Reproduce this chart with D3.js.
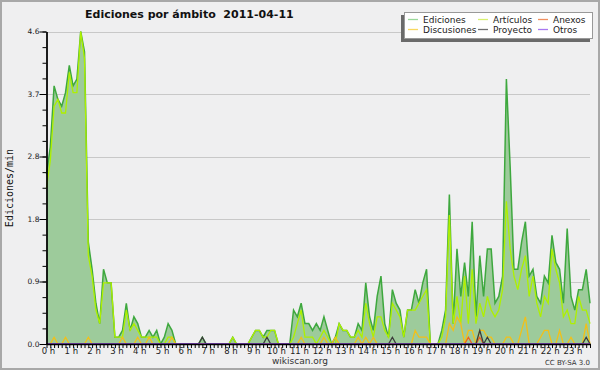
<!DOCTYPE html>
<html>
<head>
<meta charset="utf-8">
<script src="https://cdnjs.cloudflare.com/ajax/libs/d3/7.8.5/d3.min.js"></script>
<style>
  body { margin: 0; background: #efeff0; }
  text { font-family: "DejaVu Sans", sans-serif; }
</style>
</head>
<body>
<div id="chart"></div>
<script>
// 10 minute bins, edits per minute
var ediciones = [
  2.5, 2.9, 3.8, 3.6, 3.5, 3.7, 4.1, 3.8, 3.9, 4.6, 4.3, 1.5,
  1.1, 0.6, 0.3, 1.1, 0.9, 0.9, 0.1, 0.1, 0.2, 0.6, 0.2, 0.4,
  0.3, 0.1, 0.1, 0.2, 0.1, 0.2, 0, 0.1, 0.3, 0.2, 0, 0,
  0, 0, 0, 0, 0, 0.1, 0, 0, 0, 0, 0, 0,
  0, 0.1, 0, 0, 0, 0, 0.1, 0.2, 0.2, 0.1, 0.2, 0.2,
  0.2, 0, 0, 0, 0, 0.5, 0.4, 0.6, 0.3, 0.3, 0.2, 0.3,
  0.2, 0.4, 0.2, 0, 0.1, 0.3, 0.2, 0.2, 0.1, 0.1, 0.3, 0.2,
  0.9, 0.4, 0.2, 0.7, 1.0, 0.3, 0.1, 0.8, 0.6, 0.5, 0.1, 0.5,
  0.5, 0.8, 0.6, 0.9, 1.1, 0, 0, 0, 0.2, 0.5, 2.2, 0.3,
  1.4, 0.7, 1.2, 0.7, 1.8, 0.4, 1.3, 0.7, 1.4, 1.4, 0.6, 0.7,
  1.0, 3.9, 2.6, 1.1, 1.1, 1.5, 1.8, 1.0, 1.1, 0.7, 0.6, 1.0,
  0.9, 1.6, 1.2, 1.1, 0.6, 1.7, 0.7, 0.5, 0.8, 0.8, 1.1, 0.6
];
var articulos = [
  2.3, 2.7, 3.5, 3.6, 3.4, 3.4, 4.0, 3.7, 3.7, 4.6, 4.2, 1.3,
  1.0, 0.5, 0.3, 0.9, 0.9, 0.9, 0.1, 0.1, 0.1, 0.5, 0.2, 0.3,
  0.2, 0.1, 0.1, 0.1, 0.1, 0.1, 0, 0, 0.1, 0.1, 0, 0,
  0, 0, 0, 0, 0, 0, 0, 0, 0, 0, 0, 0,
  0, 0.1, 0, 0, 0, 0, 0.1, 0.2, 0.2, 0.1, 0.1, 0.2,
  0.2, 0, 0, 0, 0, 0.1, 0.3, 0.5, 0.1, 0.1, 0.1, 0,
  0.1, 0.2, 0.1, 0, 0, 0.3, 0.2, 0.2, 0.1, 0.1, 0.2, 0.1,
  0.6, 0.3, 0.1, 0.4, 0.4, 0.2, 0.1, 0.6, 0.5, 0.4, 0.1, 0.5,
  0.5, 0.5, 0.6, 0.7, 0.8, 0, 0, 0, 0.1, 0.4, 1.9, 0.3,
  0.7, 0.3, 1.0, 0.3, 1.1, 0.3, 0.6, 0.4, 0.7, 0.5, 0.4, 0.5,
  0.8, 2.1, 1.4, 1.0, 0.8, 1.1, 1.3, 0.7, 1.0, 0.6, 0.4, 0.7,
  0.6, 1.4, 1.1, 0.9, 0.4, 0.5, 0.3, 0.3, 0.7, 0.5, 0.5, 0.3
];
var discusiones = [
  0, 0, 0.1, 0, 0, 0.1, 0, 0, 0, 0, 0, 0.1,
  0, 0, 0, 0, 0, 0, 0, 0, 0.1, 0, 0, 0,
  0.1, 0, 0, 0.1, 0, 0, 0, 0, 0, 0.1, 0, 0,
  0, 0, 0, 0, 0, 0, 0, 0, 0, 0, 0, 0,
  0, 0, 0, 0, 0, 0, 0, 0, 0, 0, 0, 0,
  0, 0, 0, 0, 0, 0, 0, 0.1, 0, 0, 0, 0,
  0, 0.1, 0, 0, 0.1, 0, 0, 0, 0, 0, 0.1, 0,
  0.1, 0, 0.1, 0, 0, 0, 0, 0, 0, 0, 0, 0,
  0, 0.2, 0.1, 0.1, 0.1, 0, 0, 0, 0, 0, 0.3, 0.2,
  0.4, 0.3, 0, 0.2, 0.2, 0, 0.2, 0.2, 0.1, 0.1, 0, 0,
  0, 0.1, 0.1, 0, 0, 0.2, 0.4, 0, 0, 0, 0.1, 0.2,
  0.2, 0, 0, 0.2, 0, 0, 0.1, 0, 0, 0, 0.3, 0
];
var anexos = [
  0, 0, 0, 0, 0, 0, 0, 0, 0, 0, 0, 0,
  0, 0, 0, 0, 0, 0, 0, 0, 0, 0, 0, 0,
  0, 0, 0, 0, 0, 0, 0, 0, 0, 0, 0, 0,
  0, 0, 0, 0, 0, 0, 0, 0, 0, 0, 0, 0,
  0, 0, 0, 0, 0, 0, 0, 0, 0, 0, 0, 0,
  0, 0, 0, 0, 0, 0, 0, 0, 0, 0, 0, 0,
  0, 0, 0, 0, 0, 0, 0, 0, 0, 0, 0, 0,
  0, 0, 0, 0, 0, 0, 0, 0, 0, 0, 0, 0,
  0, 0, 0, 0, 0, 0, 0, 0, 0, 0, 0, 0,
  0, 0, 0, 0.1, 0, 0, 0.1, 0, 0, 0, 0, 0,
  0, 0, 0, 0, 0, 0, 0, 0, 0, 0, 0, 0,
  0, 0, 0, 0, 0, 0, 0, 0, 0, 0, 0, 0
];
var proyecto = [
  0, 0, 0, 0, 0, 0, 0, 0, 0, 0, 0, 0,
  0, 0, 0, 0, 0, 0, 0, 0, 0, 0, 0, 0,
  0, 0, 0, 0, 0, 0, 0, 0, 0, 0, 0, 0,
  0, 0, 0, 0, 0, 0.1, 0, 0, 0, 0, 0, 0,
  0, 0, 0, 0, 0, 0, 0, 0, 0, 0, 0.1, 0,
  0, 0, 0, 0, 0, 0, 0, 0, 0, 0, 0, 0,
  0, 0, 0, 0, 0, 0, 0, 0, 0, 0, 0, 0,
  0, 0, 0, 0, 0, 0, 0, 0.1, 0, 0, 0, 0,
  0, 0, 0, 0, 0, 0, 0, 0, 0, 0, 0, 0,
  0, 0, 0, 0, 0, 0, 0.2, 0, 0.1, 0, 0, 0,
  0, 0, 0, 0, 0, 0, 0, 0, 0, 0, 0, 0,
  0, 0, 0, 0, 0, 0, 0, 0, 0, 0, 0.1, 0
];
var otros = [
  0, 0, 0, 0, 0, 0, 0, 0, 0, 0, 0, 0,
  0, 0, 0, 0, 0, 0, 0, 0, 0, 0, 0, 0,
  0, 0, 0, 0, 0, 0, 0, 0, 0, 0, 0, 0,
  0, 0, 0, 0, 0, 0, 0, 0, 0, 0, 0, 0,
  0, 0, 0, 0, 0, 0, 0, 0, 0, 0, 0, 0,
  0, 0, 0, 0, 0, 0, 0, 0, 0, 0, 0, 0,
  0, 0, 0, 0, 0, 0, 0, 0, 0, 0, 0, 0,
  0, 0, 0, 0, 0, 0, 0, 0, 0, 0, 0, 0,
  0, 0, 0, 0, 0, 0, 0, 0, 0, 0, 0, 0,
  0, 0, 0, 0, 0, 0, 0, 0, 0, 0, 0, 0,
  0, 0, 0, 0, 0, 0, 0, 0, 0, 0, 0, 0,
  0, 0, 0, 0, 0, 0, 0, 0, 0, 0, 0, 0
];

var hourLabels = ["0 h", "1 h", "2 h", "3 h", "4 h", "5 h", "6 h", "7 h",
  "8 h", "9 h", "10 h", "11 h", "12 h", "13 h", "14 h", "15 h", "16 h",
  "17 h", "18 h", "19 h", "20 h", "21 h", "22 h", "23 h"];
var yTickValues = [0, 0.92, 1.84, 2.76, 3.68, 4.6];
var yTickLabels = ["0.0", "0.9", "1.8", "2.8", "3.7", "4.6"];
var legendNames = ["Ediciones", "Artículos", "Anexos", "Discusiones", "Proyecto", "Otros"];
var legendColors = ["#9ad89a", "#d8f070", "#f09060", "#f8d860", "#707070", "#a878f0"];

var w = 600;
var h = 370;
var maxY = 4.6;

var svg = d3
  .select("#chart")
  .append("svg")
  .attr("width", w)
  .attr("height", h);

// background + frame
svg.append("rect")
  .attr("x", 1).attr("y", 1)
  .attr("width", w - 2).attr("height", h - 2)
  .attr("fill", "#efeff0")
  .attr("stroke", "#a8a8a8")
  .attr("stroke-width", 2);

var xScale = d3.scaleLinear().domain([0, 143]).range([46.5, 590]);
var yScale = d3.scaleLinear().domain([0, maxY]).range([344, 31.5]);

// grid
svg.selectAll("line.grid")
  .data(yTickValues.slice(1))
  .enter()
  .append("line")
  .attr("class", "grid")
  .attr("x1", 46.5)
  .attr("x2", 590)
  .attr("y1", function (d) { return Math.round(yScale(d)) + 0.5; })
  .attr("y2", function (d) { return Math.round(yScale(d)) + 0.5; })
  .attr("stroke", "#c8c8c8");

// total edits as area
var area = d3.area()
  .x(function (d, i) { return xScale(i); })
  .y0(yScale(0))
  .y1(function (d) { return yScale(d); });

var line = d3.line()
  .x(function (d, i) { return xScale(i); })
  .y(function (d) { return yScale(d); });

svg.append("path")
  .datum(ediciones)
  .attr("d", area)
  .attr("fill", "#9dcb9b");

svg.append("path")
  .datum(ediciones)
  .attr("d", line)
  .attr("fill", "none")
  .attr("stroke", "#3ea83e")
  .attr("stroke-width", 1.5);

var series = [
  [articulos, "#aef000"],
  [discusiones, "#f2c018"],
  [anexos, "#f06020"],
  [proyecto, "#3c3c3c"],
  [otros, "#8040e0"]
];
series.forEach(function (s) {
  svg.append("path")
    .datum(s[0])
    .attr("d", line)
    .attr("fill", "none")
    .attr("stroke", s[1])
    .attr("stroke-width", 1.3);
});

// axes
var yAxis = d3.axisLeft(yScale)
  .tickValues(yTickValues)
  .tickFormat(function (d, i) { return yTickLabels[i]; })
  .tickSize(7)
  .tickSizeOuter(0);
var yMinor = d3.axisLeft(yScale)
  .tickValues(d3.range(0, 21).map(function (k) { return maxY * k / 20; }))
  .tickFormat("")
  .tickSize(4)
  .tickSizeOuter(0);

svg.append("g").attr("transform", "translate(46.5,0)").call(yMinor);
var gy = svg.append("g").attr("transform", "translate(46.5,0)").call(yAxis);
gy.selectAll("text")
  .attr("x", -7)
  .style("font-size", "7.5px")
  .style("font-family", "DejaVu Sans")
  .attr("fill", "#222");

var xAxis = d3.axisBottom(xScale)
  .tickValues(d3.range(0, 144))
  .tickFormat("")
  .tickSize(4)
  .tickSizeOuter(0);
svg.append("g").attr("transform", "translate(0,344)").call(xAxis);

svg.selectAll("path.domain").attr("stroke", "#000").attr("stroke-width", 1.3);

svg.selectAll("text.hour")
  .data(hourLabels)
  .enter()
  .append("text")
  .attr("class", "hour")
  .attr("x", function (d, i) { return xScale(i * 6) + 2; })
  .attr("y", 354)
  .attr("text-anchor", "middle")
  .style("font-size", "8.5px")
  .attr("fill", "#222")
  .text(function (d) { return d; });

// y label
svg.append("text")
  .attr("transform", "translate(13,188) rotate(-90)")
  .attr("text-anchor", "middle")
  .style("font-family", "DejaVu Sans Mono")
  .style("font-size", "10px")
  .attr("fill", "#111")
  .text("Ediciones/min");

// title
svg.append("text")
  .attr("x", 85)
  .attr("y", 18)
  .style("font-size", "11px")
  .style("font-weight", "bold")
  .style("white-space", "pre")
  .attr("fill", "#111")
  .text("Ediciones por ámbito  2011-04-11");

// legend
svg.append("rect")
  .attr("x", 401).attr("y", 15)
  .attr("width", 189).attr("height", 27)
  .attr("fill", "#6a6a6a");
svg.append("rect")
  .attr("x", 404.5).attr("y", 12.5)
  .attr("width", 188).attr("height", 26)
  .attr("fill", "#fff")
  .attr("stroke", "#999");

var colX = [408, 478, 538];
legendNames.forEach(function (name, i) {
  var cx = colX[i % 3];
  var cy = i < 3 ? 19.5 : 29.5;
  svg.append("line")
    .attr("x1", cx).attr("x2", cx + 10)
    .attr("y1", cy).attr("y2", cy)
    .attr("stroke", legendColors[i])
    .attr("stroke-width", 1.3);
  svg.append("text")
    .attr("x", cx + 15)
    .attr("y", cy + 3)
    .style("font-size", "9px")
    .attr("fill", "#222")
    .text(name);
});

// footer
svg.append("text")
  .attr("x", 300)
  .attr("y", 364)
  .attr("text-anchor", "middle")
  .style("font-size", "9px")
  .attr("fill", "#333")
  .text("wikiscan.org");
svg.append("text")
  .attr("x", 590)
  .attr("y", 365)
  .attr("text-anchor", "end")
  .style("font-size", "7px")
  .attr("fill", "#333")
  .text("CC BY-SA 3.0");
</script>
</body>
</html>
